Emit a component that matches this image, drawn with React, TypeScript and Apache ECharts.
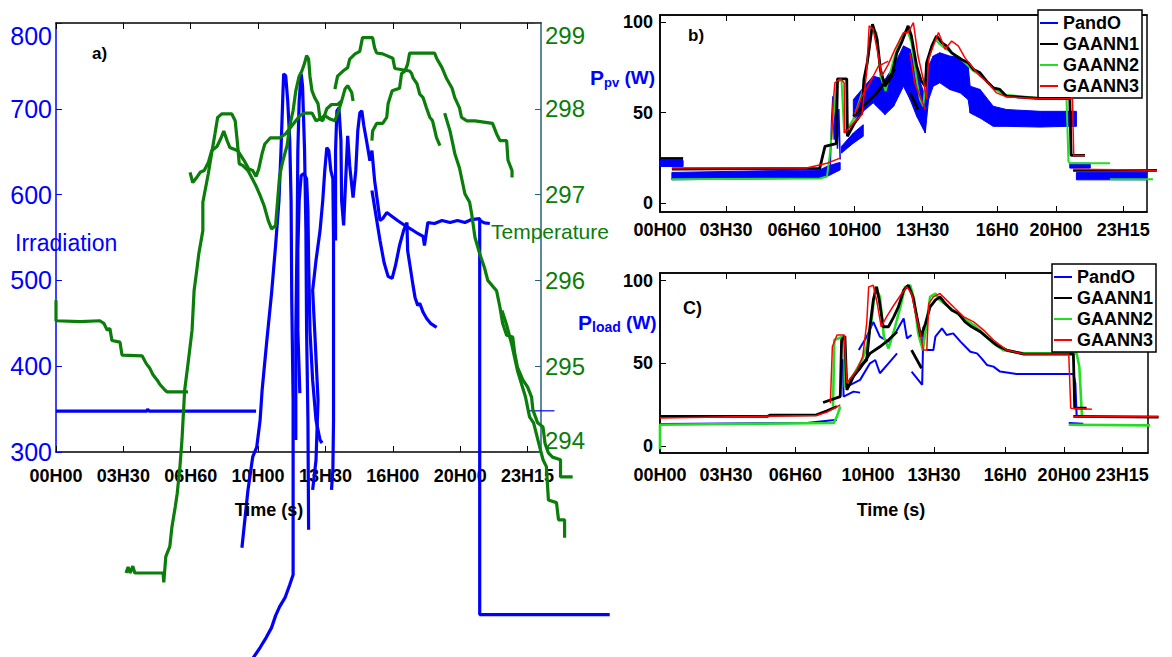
import React, { useEffect, useRef } from 'react';
import * as echarts from 'echarts';

type Pt = [number, number];
type Band = [number, number, number];

const BLUE = '#0000ff';
const GREEN_A = '#0a7d0a';
const GREEN = '#22dd22';
const RED = '#ff0000';
const BLACK = '#000000';
const TEAL = '#25607f';
const FONT = "'Liberation Sans', Arial, Helvetica, sans-serif";

// time axis: tick positions (axis units) and their labels
const labelsA = ['00H00', '03H30', '06H60', '10H00', '13H30', '16H00', '20H00', '23H15'];
const labelsBC = ['00H00', '03H30', '06H60', '10H00', '13H30', '16H0', '20H00', '23H15'];
const ticksA = [0, 1, 2, 3, 4, 5, 6, 7];
const ticksB = [0, 1.0, 2.03, 2.95, 3.98, 5.11, 6.0, 7.02];
const ticksC = [0, 1.0, 2.05, 3.15, 4.15, 5.23, 6.12, 7.0];

// ---- a) irradiation (left axis) ----
const irradiationSegments: Pt[][] = [
  [[0, 347.7], [1.35, 347.7], [1.36, 350], [1.38, 347.7], [2.97, 347.7]],
  [[2.76, 188.4], [2.85, 255.8], [2.92, 294.2], [2.98, 305.8], [3.03, 337.2], [3.06, 372.1], [3.13, 430.2], [3.2, 484.9], [3.26, 540.7], [3.31, 593.0], [3.34, 651.2], [3.37, 720.9], [3.38, 740.7], [3.41, 738.4], [3.44, 709.3], [3.47, 662.8], [3.49, 593.0], [3.5, 476.7], [3.52, 360.5], [3.52, 157.0], [3.47, 145.3], [3.4, 130.2], [3.32, 119.8], [3.26, 109.3], [3.2, 95.3], [3.12, 83.7], [3.03, 72.1], [2.91, 58.1], [2.86, 50]],
  [[3.56, 314.0], [3.56, 441.9], [3.58, 558.1], [3.59, 651.2], [3.61, 709.3], [3.64, 740.7], [3.66, 726.7], [3.69, 651.2], [3.71, 558.1], [3.72, 441.9], [3.74, 337.2], [3.75, 209.3]],
  [[3.62, 368.6], [3.59, 441.9], [3.59, 534.9], [3.61, 593.0], [3.64, 622.1], [3.68, 624.4], [3.72, 618.6], [3.74, 581.4], [3.75, 523.3], [3.77, 441.9], [3.81, 383.7], [3.86, 337.2], [3.92, 314.0], [3.95, 310.5]],
  [[3.81, 255.8], [3.86, 290.7], [3.89, 360.5], [3.84, 441.9], [3.81, 488.4], [3.86, 523.3], [3.92, 558.1], [3.96, 593.0], [3.99, 627.9], [4.02, 654.7], [4.05, 651.2], [4.08, 627.9], [4.11, 618.6], [4.12, 546.5], [4.12, 441.9], [4.12, 337.2], [4.11, 279.1], [4.09, 255.8]],
  [[4.15, 546.5], [4.15, 651.2], [4.17, 697.7], [4.2, 701.2], [4.23, 662.8], [4.24, 593.0], [4.27, 564.0], [4.3, 616.3], [4.33, 668.6], [4.36, 633.7], [4.41, 596.5], [4.45, 627.9], [4.48, 674.4], [4.51, 695.3], [4.54, 697.7], [4.57, 680.2], [4.61, 662.8], [4.66, 639.5], [4.69, 651.2], [4.73, 616.3], [4.78, 587.2], [4.81, 569.8], [4.85, 572.1], [4.91, 579.1], [4.99, 574.4], [5.07, 569.8], [5.18, 564.0], [5.28, 559.3], [5.37, 554.7], [5.45, 551.2], [5.47, 540.7], [5.52, 567.4], [5.62, 566.3], [5.73, 569.8], [5.85, 567.4], [5.96, 569.8], [6.07, 567.4], [6.17, 570.9], [6.29, 572.1], [6.29, 110.5], [8.22, 110.5]],
  [[6.29, 569.8], [6.36, 567], [6.44, 566.3]],
  [[4.69, 604.7], [4.75, 575.6], [4.81, 546.5], [4.87, 520.9], [4.93, 504.7], [4.99, 502.3], [5.04, 517.4], [5.1, 540.7], [5.16, 558.1], [5.21, 567.4], [5.22, 534.9], [5.25, 519.8], [5.3, 494.2], [5.33, 480.2], [5.37, 470.9], [5.4, 473.3], [5.45, 462.8], [5.5, 455.8], [5.56, 450.0], [5.65, 445.3]],
];
const irradiationMark: Pt[] = [[7.0, 348], [7.4, 348]];

// ---- a) temperature (right axis) ----
const temperatureSegments: Pt[][] = [
  [[0, 295.77], [0, 295.53], [0.36, 295.52], [0.65, 295.53], [0.71, 295.5], [0.76, 295.42], [0.8, 295.44], [0.83, 295.3], [0.95, 295.28], [0.98, 295.13], [1.28, 295.12], [1.34, 295.03], [1.39, 294.98], [1.44, 294.9], [1.5, 294.84], [1.54, 294.79], [1.62, 294.72], [1.65, 294.7], [1.96, 294.7]],
  [[1.04, 292.59], [1.07, 292.66], [1.1, 292.59], [1.14, 292.67], [1.17, 292.59], [1.59, 292.59], [1.6, 292.48], [1.63, 292.78], [1.69, 292.9], [1.72, 293.12], [1.77, 293.36], [1.8, 293.52], [1.84, 293.83], [1.87, 294.14], [1.91, 294.72], [1.96, 295.03], [2.02, 295.42], [2.05, 295.88], [2.09, 296.12], [2.12, 296.31], [2.18, 296.58], [2.18, 296.91], [2.26, 297.24], [2.31, 297.48], [2.36, 297.71], [2.4, 297.9], [2.46, 297.94], [2.61, 297.94], [2.66, 297.86], [2.69, 297.63], [2.72, 297.36], [2.77, 297.34], [2.85, 297.28], [2.91, 297.19], [2.97, 297.1], [3.03, 296.99], [3.09, 296.87], [3.15, 296.7], [3.2, 296.6], [3.26, 296.64], [3.29, 296.93], [3.32, 297.22], [3.37, 297.4], [3.43, 297.57], [3.47, 297.8], [3.52, 297.98], [3.56, 298.21], [3.61, 298.38], [3.65, 298.44], [3.69, 298.53], [3.72, 298.62], [3.75, 298.58], [3.77, 298.38], [3.8, 298.21], [3.84, 298.13], [3.89, 298.06], [3.92, 297.88], [3.96, 297.86], [4.02, 298.0], [4.09, 298.05], [4.18, 298.05], [4.24, 298.09], [4.29, 298.23], [4.33, 298.27], [4.39, 298.19], [4.41, 298.09]],
  [[1.99, 297.26], [2.03, 297.14], [2.08, 297.19], [2.14, 297.26], [2.2, 297.28], [2.26, 297.37], [2.31, 297.51], [2.39, 297.56], [2.45, 297.66], [2.49, 297.74], [2.54, 297.63], [2.58, 297.55], [2.7, 297.51], [2.79, 297.4], [2.86, 297.3], [2.92, 297.28], [2.97, 297.21], [3.01, 297.3], [3.06, 297.48], [3.1, 297.59], [3.18, 297.66], [3.32, 297.66], [3.41, 297.71], [3.47, 297.77], [3.56, 297.86], [3.62, 297.92], [3.69, 297.95], [3.8, 297.95], [3.86, 297.86], [3.92, 297.88], [3.99, 297.92], [4.07, 297.88], [4.14, 297.86], [4.18, 297.94], [4.24, 298.09]],
  [[4.14, 298.23], [4.18, 298.38], [4.26, 298.44], [4.33, 298.48], [4.36, 298.58], [4.44, 298.64], [4.51, 298.67], [4.55, 298.83], [4.7, 298.83], [4.73, 298.71], [4.76, 298.65], [4.85, 298.64], [5.0, 298.59], [5.03, 298.47], [5.25, 298.44], [5.28, 298.41], [5.3, 298.36], [5.36, 298.29], [5.4, 298.17], [5.45, 298.13], [5.5, 298.01], [5.55, 297.9], [5.59, 297.86], [5.65, 297.66], [5.7, 297.57]],
  [[4.69, 297.63], [4.7, 297.74], [4.76, 297.83], [4.85, 297.83], [4.91, 297.9], [4.93, 298.06], [4.99, 298.21], [5.1, 298.24], [5.13, 298.41], [5.18, 298.44], [5.22, 298.52], [5.25, 298.65], [5.62, 298.65], [5.65, 298.59], [5.73, 298.48], [5.8, 298.35], [5.88, 298.24], [5.92, 298.13], [5.99, 298.01], [6.02, 297.9], [6.1, 297.86], [6.22, 297.86], [6.48, 297.83], [6.54, 297.71], [6.59, 297.63], [6.69, 297.63], [6.71, 297.4], [6.77, 297.28], [6.77, 297.2]],
  [[5.77, 297.95], [5.85, 297.74], [5.88, 297.63], [5.92, 297.48], [5.99, 297.31], [6.07, 297.01], [6.14, 296.91], [6.17, 296.78], [6.22, 296.5], [6.29, 296.31], [6.36, 296.15], [6.41, 296.0], [6.54, 295.88], [6.59, 295.69], [6.63, 295.5], [6.69, 295.36], [6.78, 295.34], [6.81, 295.15], [6.85, 294.99], [6.93, 294.84], [7.0, 294.76], [7.06, 294.64], [7.08, 294.49], [7.15, 294.34], [7.23, 294.29], [7.26, 294.1], [7.31, 293.99], [7.37, 293.94], [7.49, 293.91], [7.49, 293.71], [7.67, 293.71]],
  [[6.62, 295.65], [6.69, 295.48], [6.77, 295.24], [6.85, 294.95], [6.97, 294.64], [7.03, 294.41], [7.09, 294.34], [7.18, 294.06], [7.23, 293.91], [7.28, 293.83], [7.31, 293.44], [7.43, 293.41], [7.46, 293.21], [7.55, 293.21], [7.55, 293.0]],
];

// ---- b) PV power: PandO envelope [t, low, high] and model outputs ----
const pvPandOBand: Band[][] = [
  [[0, 20.2, 23.5], [0.35, 20.2, 23.5]],
  [[0.18, 12.8, 16.9], [2.42, 13.7, 18.3], [2.53, 14.6, 20.2], [2.68, 17.4, 22.0], [2.73, 18.3, 22.4]],
  [[2.75, 27.6, 31.3], [2.93, 33.1, 38.7], [3.08, 36.9, 43.3]],
  [[2.93, 46.1, 57.2], [3.23, 55.4, 70.2], [3.41, 48.9, 68.3], [3.54, 53.5, 75.7], [3.69, 64.6, 86.9], [3.79, 57.2, 85.0], [3.89, 48.0, 72.0], [4.02, 38.7, 59.1], [4.07, 57.2, 75.7], [4.14, 64.6, 81.3], [4.24, 66.5, 83.1], [4.39, 62.8, 81.3], [4.55, 60.9, 80.4], [4.67, 57.2, 75.7], [4.7, 49.8, 64.6], [4.85, 47.0, 62.8], [5.05, 42.4, 53.5], [5.25, 42.4, 51.7], [5.76, 42.0, 50.7], [6.16, 42.4, 50.7], [6.31, 42.4, 50.7]],
  [[6.21, 19.3, 22.0], [6.52, 19.3, 22.0]],
  [[6.31, 12.8, 16.9], [7.37, 12.8, 16.9]],
];
const pvPandO: Pt[][] = [
  [[2.58, 20], [2.6, 45], [2.62, 59], [2.64, 35], [2.66, 57], [2.69, 30], [2.71, 52], [2.73, 24]],
];
const pvGaann1: Pt[][] = [
  [[0, 24.6], [0.35, 24.6]],
  [[0.18, 18.7], [2.42, 19.1], [2.5, 31.3], [2.67, 32.8], [2.69, 68.7], [2.83, 68.7], [2.84, 36.9], [2.95, 44.3], [3.06, 49.8], [3.09, 68.3], [3.14, 77.6], [3.22, 98.9], [3.29, 90.6], [3.34, 73.9], [3.41, 64.6], [3.51, 70.2], [3.59, 83.1], [3.66, 88.7], [3.71, 93.3], [3.76, 98.0], [3.81, 92.4], [3.89, 75.7], [3.96, 67.4], [4.02, 64.6], [4.04, 77.6], [4.12, 86.9], [4.19, 92.4], [4.27, 88.7], [4.34, 86.9], [4.42, 83.1], [4.49, 81.3], [4.57, 79.4], [4.67, 77.6], [4.75, 73.9], [4.85, 72.0], [4.95, 67.4], [5.05, 63.7], [5.15, 62.8], [5.25, 59.1], [5.76, 57.8], [6.21, 57.8], [6.23, 26.3], [6.44, 26.3]],
  [[6.26, 18.0], [7.53, 18.0]],
  [[2.93, 48.0], [3.13, 55.4], [3.26, 60.0], [3.41, 66.5], [3.56, 73.9]],
  [[3.79, 60.9], [3.91, 51.7]],
];
const pvGaann2: Pt[][] = [
  [[0.18, 13.1], [2.42, 13.5], [2.53, 14.6], [2.57, 25.7], [2.6, 38.7], [2.68, 66.5], [2.75, 68.3], [2.79, 38.7], [2.93, 46.1], [3.06, 60.9], [3.13, 73.9], [3.21, 96.1], [3.28, 94.3], [3.34, 70.2], [3.42, 61.9], [3.54, 79.4], [3.64, 90.6], [3.74, 96.1], [3.81, 88.7], [3.88, 70.2], [3.94, 57.2], [3.99, 53.5], [4.03, 70.2], [4.09, 83.1], [4.17, 90.6], [4.24, 87.8], [4.34, 85.0], [4.47, 82.2], [4.62, 77.6], [4.75, 73.0], [4.9, 69.3], [5.05, 63.7], [5.2, 60.0], [5.76, 58.0], [6.16, 58.0], [6.19, 23.0], [6.21, 22.0], [6.82, 22.0]],
  [[6.82, 13.1], [7.47, 13.1]],
];
const pvGaann3: Pt[][] = [
  [[0.18, 19.3], [2.22, 19.3], [2.53, 22.0], [2.73, 24.8]],
  [[2.6, 35.0], [2.62, 53.5], [2.65, 66.5], [2.73, 68.7], [2.79, 66.5], [2.8, 38.7], [2.93, 44.3], [3.06, 48.9], [3.13, 72.0], [3.17, 98.0], [3.23, 96.1], [3.29, 85.0], [3.36, 70.2], [3.46, 76.7], [3.56, 85.0], [3.69, 94.3], [3.76, 94.3], [3.84, 99.8], [3.91, 81.3], [3.99, 68.3], [4.04, 57.2], [4.07, 79.4], [4.14, 86.9], [4.22, 94.3], [4.32, 85.0], [4.42, 89.6], [4.52, 86.9], [4.62, 80.4], [4.72, 75.7], [4.85, 70.2], [4.97, 66.5], [5.1, 60.9], [5.25, 58.7], [5.76, 57.6], [6.25, 57.6], [6.27, 26.3], [6.44, 26.3]],
  [[6.26, 18.7], [7.27, 18.3], [7.53, 18.0]],
  [[2.95, 48.9], [3.06, 59.1], [3.18, 66.5], [3.31, 75.7], [3.46, 78.5]],
  [[3.79, 83.1], [3.86, 66.5], [3.96, 57.2], [4.02, 51.7]],
];

// ---- c) load power ----
const loadPandO: Pt[][] = [
  [[0, 13.3], [2.22, 13.9], [2.68, 15.9]],
  [[2.73, 52], [2.77, 52], [2.78, 29.9], [2.93, 32.9], [3.03, 32.3]],
  [[2.83, 35.9], [3.03, 40], [3.18, 50], [3.26, 52], [3.33, 44], [3.46, 50], [3.59, 56]],
  [[3.01, 58], [3.13, 66.1], [3.23, 75.1], [3.33, 66.1], [3.46, 63.1], [3.56, 68.1], [3.69, 77.1], [3.74, 65.1], [3.81, 67.1]],
  [[3.81, 45], [3.91, 40], [3.97, 37], [3.99, 72.1]],
  [[4.04, 58], [4.14, 58], [4.17, 66.1], [4.27, 71.1], [4.34, 67.1], [4.44, 68.1], [4.55, 63.1], [4.7, 57], [4.8, 56], [4.87, 53], [4.95, 49], [5.05, 48], [5.15, 45], [5.4, 43.6], [6.26, 43.6], [6.29, 38], [6.31, 17.9]],
  [[6.19, 13.9], [6.41, 13.5]],
];
const loadGaann1: Pt[][] = [
  [[0, 17.9], [1.62, 17.9], [1.67, 18.7], [2.37, 18.9], [2.53, 21.3], [2.68, 23.9]],
  [[2.47, 26.3], [2.73, 29.9], [2.75, 64.1], [2.8, 66.5], [2.83, 33.9], [2.93, 42], [3.03, 48], [3.13, 52], [3.18, 72.1], [3.23, 88.2], [3.28, 96.2], [3.32, 88.2], [3.38, 72.1], [3.46, 72.1], [3.54, 78.1], [3.61, 84.1], [3.69, 94.2], [3.76, 97.2], [3.83, 90.2], [3.89, 78.1], [3.95, 66.1], [4.02, 74.1], [4.09, 84.1], [4.17, 88.2], [4.24, 90.2], [4.32, 86.1], [4.42, 82.1], [4.52, 80.1], [4.62, 75.1], [4.72, 72.1], [4.85, 69.1], [4.97, 65.1], [5.1, 61.0], [5.25, 58.0], [5.51, 55.6], [6.26, 55.6], [6.28, 22.9], [6.46, 22.9]],
  [[6.26, 17.9], [7.55, 17.5]],
  [[2.88, 40], [3.03, 47], [3.18, 56], [3.33, 60], [3.46, 64.1], [3.59, 69.1]],
  [[3.81, 58], [3.96, 47]],
];
const loadGaann2: Pt[][] = [
  [[0, -2], [0, 12.9], [2.63, 13.9], [2.68, 17.9], [2.73, 23.9]],
  [[2.62, 23.9], [2.64, 64.1], [2.79, 66.5], [2.8, 35.9], [2.93, 43], [3.06, 52], [3.13, 60], [3.21, 78.1], [3.26, 96.2], [3.33, 90.2], [3.39, 66.1], [3.46, 59], [3.56, 72.1], [3.64, 84.1], [3.71, 96.2], [3.79, 97.2], [3.85, 88.2], [3.91, 68.1], [3.98, 58], [4.03, 72.1], [4.09, 90.2], [4.17, 92.2], [4.24, 88.2], [4.34, 85.1], [4.47, 81.1], [4.6, 77.1], [4.75, 73.1], [4.9, 68.1], [5.05, 62.0], [5.2, 58.0], [5.51, 56.0], [6.31, 56.0], [6.35, 48], [6.39, 17.9]],
  [[6.19, 12.9], [7.42, 12.5]],
];
const loadGaann3: Pt[][] = [
  [[0, 16.9], [2.37, 18.5], [2.53, 20.5], [2.73, 24.9]],
  [[2.58, 25.9], [2.61, 60], [2.68, 67.1], [2.79, 67.1], [2.83, 38], [2.98, 46], [3.07, 54], [3.13, 74.1], [3.16, 96.2], [3.23, 97.2], [3.29, 86.1], [3.35, 72.1], [3.43, 78.1], [3.54, 85.1], [3.66, 92.2], [3.74, 96.2], [3.81, 92.2], [3.86, 82.1], [3.93, 70.1], [3.99, 58], [4.04, 58], [4.07, 86.1], [4.14, 90.2], [4.24, 92.2], [4.34, 88.2], [4.47, 83.1], [4.6, 78.1], [4.75, 75.1], [4.9, 70.1], [5.05, 64.1], [5.25, 58], [5.51, 55.6], [6.19, 55.6], [6.22, 22.9], [6.54, 22.3]],
  [[6.26, 17.9], [7.55, 17.9]],
];

const legendNames = ['PandO', 'GAANN1', 'GAANN2', 'GAANN3'];

// Panel frames (visible axes) and the wider data areas that share their scale,
// so traces can run past the right-hand frame.
const PANEL_A = { left: 56, top: 23, width: 485, height: 429, max: 7.2, dataMax: 9 };
const PANEL_B = { left: 660, top: 15, width: 487, height: 197, max: 7.38, dataMax: 8 };
const PANEL_C = { left: 660, top: 273, width: 488, height: 180, max: 7.39, dataMax: 8 };

const tickFormatter = (ticks: number[], labels: string[]) => (v: number) => {
  const i = ticks.findIndex((t) => Math.abs(t - v) < 1e-6);
  return i < 0 ? '' : labels[i];
};

function lineSeries(name: string, segs: Pt[][], color: string, width: number, xi: number, yi: number, z: number) {
  return segs.map((seg) => ({
    type: 'line',
    name,
    data: seg,
    xAxisIndex: xi,
    yAxisIndex: yi,
    symbol: 'none',
    showSymbol: false,
    clip: false,
    silent: true,
    z,
    lineStyle: { color, width },
    itemStyle: { color },
    emphasis: { disabled: true },
  }));
}

function bandSeries(bands: Band[][], xi: number, yi: number) {
  return bands.map((band) => ({
    type: 'custom',
    name: 'PandO band',
    xAxisIndex: xi,
    yAxisIndex: yi,
    silent: true,
    z: 1,
    dimensions: ['x0', 'lo0', 'hi0', 'x1', 'lo1', 'hi1'],
    encode: { x: [0, 3], y: [1, 2, 4, 5] },
    data: band.slice(0, -1).map((d, i) => [d[0], d[1], d[2], band[i + 1][0], band[i + 1][1], band[i + 1][2]]),
    renderItem: (_params: any, api: any) => {
      const a = api.coord([api.value(0), api.value(2)]);
      const b = api.coord([api.value(3), api.value(5)]);
      const c = api.coord([api.value(3), api.value(4)]);
      const d = api.coord([api.value(0), api.value(1)]);
      return {
        type: 'polygon',
        shape: { points: [a, b, c, d] },
        style: { fill: BLUE, stroke: BLUE, lineWidth: 1 },
      };
    },
  }));
}

function xAxisPair(gridIndex: number, max: number, ticks: number[], labels: string[], margin: number) {
  const line = { show: true, onZero: false, lineStyle: { color: BLACK, width: 1.5 } };
  const tick = { show: true, inside: true, length: 6, customValues: ticks, lineStyle: { color: BLACK, width: 1 } };
  return [
    {
      type: 'value', gridIndex, min: 0, max, position: 'bottom',
      axisLine: line, axisTick: tick,
      axisLabel: {
        show: true, customValues: ticks, formatter: tickFormatter(ticks, labels),
        color: BLACK, fontWeight: 'bold', fontSize: 18, fontFamily: FONT, margin,
      },
      splitLine: { show: false },
    },
    {
      type: 'value', gridIndex, min: 0, max, position: 'top',
      axisLine: line, axisTick: tick, axisLabel: { show: false }, splitLine: { show: false },
    },
  ];
}

function hiddenAxis(gridIndex: number, min: number, max: number) {
  return { type: 'value', gridIndex, min, max, show: false, splitLine: { show: false } };
}

function powerYAxis(gridIndex: number, min: number, max: number) {
  return {
    type: 'value', gridIndex, min, max, position: 'left',
    axisLine: { show: true, onZero: false, lineStyle: { color: BLACK, width: 1.5 } },
    axisTick: { show: true, inside: true, length: 6, customValues: [0, 50, 100], lineStyle: { color: BLACK } },
    axisLabel: { customValues: [0, 50, 100], color: BLACK, fontWeight: 'bold', fontSize: 18, fontFamily: FONT, margin: 7 },
    splitLine: { show: false },
  };
}

function legendAt(left: number, top: number) {
  return {
    show: true, left, top, orient: 'vertical', selectedMode: false,
    data: legendNames,
    icon: 'rect',
    backgroundColor: '#ffffff', borderColor: BLACK, borderWidth: 1.5, borderRadius: 0,
    padding: [3, 3, 2, 2], itemGap: 1, itemWidth: 18, itemHeight: 2,
    textStyle: { color: BLACK, fontWeight: 'bold', fontSize: 18, fontFamily: FONT, lineHeight: 20 },
  };
}

function panelGrid(p: { left: number; top: number; width: number; height: number }, framed: boolean) {
  return {
    left: p.left, top: p.top, width: p.width, height: p.height,
    show: framed, borderColor: BLACK, borderWidth: 1.5, backgroundColor: 'transparent',
    outerBoundsMode: 'none', containLabel: false,
  };
}

function dataGrid(p: { left: number; top: number; width: number; height: number; max: number; dataMax: number }) {
  return {
    left: p.left, top: p.top, width: (p.width * p.dataMax) / p.max, height: p.height,
    show: false, outerBoundsMode: 'none', containLabel: false,
  };
}

function buildOption() {
  // data axes: x 6 (a), 7 (b), 8 (c); y 4 (a left), 5 (a right), 6 (b), 7 (c)
  const series: any[] = [
    ...lineSeries('Irradiation', irradiationSegments, BLUE, 3.2, 6, 4, 2),
    ...lineSeries('Irradiation', [irradiationMark], BLUE, 1.2, 6, 4, 2),
    ...lineSeries('Temperature', temperatureSegments, GREEN_A, 3.2, 6, 5, 3),
    ...bandSeries(pvPandOBand, 7, 6),
    ...lineSeries('PandO', pvPandO, BLUE, 1.5, 7, 6, 2),
    ...lineSeries('GAANN2', pvGaann2, GREEN, 2, 7, 6, 3),
    ...lineSeries('GAANN1', pvGaann1, BLACK, 2.8, 7, 6, 4),
    ...lineSeries('GAANN3', pvGaann3, RED, 1.5, 7, 6, 5),
    ...lineSeries('PandO', loadPandO, BLUE, 2, 8, 7, 2),
    ...lineSeries('GAANN2', loadGaann2, GREEN, 2.6, 8, 7, 3),
    ...lineSeries('GAANN1', loadGaann1, BLACK, 2.8, 8, 7, 4),
    ...lineSeries('GAANN3', loadGaann3, RED, 1.5, 8, 7, 5),
  ];

  return {
    animation: false,
    backgroundColor: '#ffffff',
    textStyle: { fontFamily: FONT },
    grid: [
      panelGrid(PANEL_A, false),
      panelGrid(PANEL_B, true),
      panelGrid(PANEL_C, true),
      dataGrid(PANEL_A),
      dataGrid(PANEL_B),
      dataGrid(PANEL_C),
    ],
    xAxis: [
      ...xAxisPair(0, PANEL_A.max, ticksA, labelsA, 15),
      ...xAxisPair(1, PANEL_B.max, ticksB, labelsBC, 9),
      ...xAxisPair(2, PANEL_C.max, ticksC, labelsBC, 13),
      hiddenAxis(3, 0, PANEL_A.dataMax),
      hiddenAxis(4, 0, PANEL_B.dataMax),
      hiddenAxis(5, 0, PANEL_C.dataMax),
    ],
    yAxis: [
      {
        type: 'value', gridIndex: 0, min: 300, max: 800, interval: 100, position: 'left',
        axisLine: { show: true, onZero: false, lineStyle: { color: BLUE, width: 1.5 } },
        axisTick: { show: true, inside: true, length: 6, lineStyle: { color: BLUE } },
        axisLabel: { color: BLUE, fontSize: 25, fontFamily: FONT, margin: 4, verticalAlignMaxLabel: 'top' },
        splitLine: { show: false },
      },
      {
        type: 'value', gridIndex: 0, min: 294, max: 299, interval: 1, position: 'right',
        axisLine: { show: true, onZero: false, lineStyle: { color: TEAL, width: 1.5 } },
        axisTick: { show: true, inside: true, length: 6, lineStyle: { color: TEAL } },
        axisLabel: { color: GREEN_A, fontSize: 24, fontFamily: FONT, margin: 4, verticalAlignMaxLabel: 'top', verticalAlignMinLabel: 'bottom' },
        splitLine: { show: false },
      },
      powerYAxis(1, -5, 104),
      powerYAxis(2, -4.2, 104.6),
      hiddenAxis(3, 300, 800),
      hiddenAxis(3, 294, 299),
      hiddenAxis(4, -5, 104),
      hiddenAxis(5, -4.2, 104.6),
    ],
    legend: [legendAt(1038, 10), legendAt(1052, 264)],
    graphic: [
      { type: 'text', x: 92, y: 53, z: 10, style: { text: 'a)', font: `bold 17px ${FONT}`, fill: BLACK, textVerticalAlign: 'middle' } },
      { type: 'text', x: 688, y: 35, z: 10, style: { text: 'b)', font: `bold 17px ${FONT}`, fill: BLACK, textVerticalAlign: 'middle' } },
      { type: 'text', x: 683, y: 308, z: 10, style: { text: 'C)', font: `bold 18px ${FONT}`, fill: BLACK, textVerticalAlign: 'middle' } },
      { type: 'text', x: 15, y: 243, z: 10, style: { text: 'Irradiation', font: `23px ${FONT}`, fill: BLUE, textVerticalAlign: 'middle' } },
      { type: 'text', x: 491, y: 231, z: 10, style: { text: 'Temperature', font: `21px ${FONT}`, fill: GREEN_A, textVerticalAlign: 'middle' } },
      { type: 'text', x: 269, y: 510, z: 10, style: { text: 'Time (s)', font: `bold 18px ${FONT}`, fill: BLACK, textAlign: 'center', textVerticalAlign: 'middle' } },
      { type: 'text', x: 891, y: 510, z: 10, style: { text: 'Time (s)', font: `bold 18px ${FONT}`, fill: BLACK, textAlign: 'center', textVerticalAlign: 'middle' } },
      {
        type: 'text', x: 590, y: 77, z: 10,
        style: {
          text: '{p|P}{s|pv}{w| (W)}', textVerticalAlign: 'middle',
          rich: {
            p: { fontSize: 21, fontWeight: 'bold', fontFamily: FONT, fill: BLUE, lineHeight: 24 },
            s: { fontSize: 13, fontWeight: 'bold', fontFamily: FONT, fill: BLUE, lineHeight: 24, verticalAlign: 'bottom' },
            w: { fontSize: 19, fontWeight: 'bold', fontFamily: FONT, fill: BLUE, lineHeight: 24 },
          },
        },
      },
      {
        type: 'text', x: 578, y: 322, z: 10,
        style: {
          text: '{p|P}{s|load}{w| (W)}', textVerticalAlign: 'middle',
          rich: {
            p: { fontSize: 21, fontWeight: 'bold', fontFamily: FONT, fill: BLUE, lineHeight: 24 },
            s: { fontSize: 14, fontWeight: 'bold', fontFamily: FONT, fill: BLUE, lineHeight: 24, verticalAlign: 'bottom' },
            w: { fontSize: 19, fontWeight: 'bold', fontFamily: FONT, fill: BLUE, lineHeight: 24 },
          },
        },
      },
    ],
    series,
  };
}

export default function App() {
  const ref = useRef<HTMLDivElement>(null);
  useEffect(() => {
    if (!ref.current) return;
    const chart = echarts.init(ref.current, undefined, { renderer: 'svg' });
    chart.setOption(buildOption() as any);
    return () => chart.dispose();
  }, []);
  return (
    <div
      ref={ref}
      style={{ position: 'fixed', left: 0, top: 0, width: 1172, height: 657, background: '#ffffff' }}
    />
  );
}
